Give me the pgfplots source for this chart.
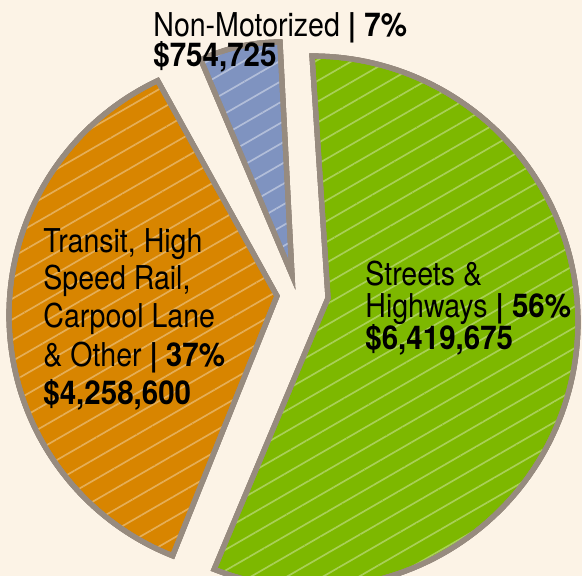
\documentclass[border=0pt]{standalone}
\usepackage{pgfplots}
\pgfplotsset{compat=1.18}
\usetikzlibrary{patterns.meta}
\usepackage{fontspec}
\setmainfont{TeX Gyre Heros}[FakeStretch=0.87, BoldFeatures={FakeStretch=0.9}]
\definecolor{bgc}{HTML}{FCF3E6}
\definecolor{bordc}{HTML}{978B7F}
\definecolor{greenc}{HTML}{7DB800}
\definecolor{orangec}{HTML}{D88500}
\definecolor{bluec}{HTML}{7F93C0}
\tikzset{
  lbl/.style={anchor=base west, inner sep=0pt, font=\fontsize{16.4pt}{19pt}\selectfont},
  slice/.style={draw=bordc, line width=2.6pt, line join=miter},
}
% shares (percent)
\def\vStreets{56}
\def\vTransit{37}
\def\vNonMot{7}
\pgfmathsetmacro\aA{90}
\pgfmathsetmacro\aB{90-3.6*\vStreets}
\pgfmathsetmacro\aC{\aB-3.6*\vTransit}
\pgfmathsetmacro\aD{\aC-3.6*\vNonMot}
\begin{document}
\begin{tikzpicture}
\begin{axis}[
  scale only axis, width=291pt, height=288pt,
  xmin=0, xmax=582, ymin=0, ymax=576, y dir=reverse,
  axis line style={draw=none}, ticks=none,
  axis background/.style={fill=bgc},
  clip=true,
]
% Streets & Highways (exploded to the right)
\addplot[slice, preaction={fill=greenc},
  preaction={pattern={Lines[angle=30,distance=9pt,line width=0.85pt]}, pattern color=greenc!66!white},
  domain=\aB:\aA, samples=120, variable=\t]
  ({312+266*cos(t)}, {322-266*sin(t)}) -- (328,298) -- cycle;
% Transit, High Speed Rail, Carpool Lane & Other
\addplot[slice, preaction={fill=orangec},
  preaction={pattern={Lines[angle=30,distance=9pt,line width=0.85pt]}, pattern color=orangec!66!white},
  domain=\aC:\aB, samples=90, variable=\t]
  ({268+259*cos(t)}, {315-259*sin(t)}) -- (277,296) -- cycle;
% Non-Motorized
\addplot[slice, preaction={fill=bluec},
  preaction={pattern={Lines[angle=30,distance=9pt,line width=0.85pt]}, pattern color=bluec!60!white},
  domain=\aD:\aC, samples=30, variable=\t]
  ({280+186*cos(t)}, {228-186*sin(t)}) -- (292,275) -- cycle;

\node[lbl] at (153,37) {Non-Motorized \textbf{| 7\%}};
\node[lbl] at (153,67) {\textbf{\$754,725}};

\node[lbl] at (43,253) {Transit, High};
\node[lbl] at (43,290) {Speed Rail,};
\node[lbl] at (43,328) {Carpool Lane};
\node[lbl] at (43,366) {\& Other \textbf{| 37\%}};
\node[lbl] at (43,404) {\textbf{\$4,258,600}};

\node[lbl] at (365,286) {Streets \&};
\node[lbl] at (365,318) {Highways \textbf{| 56\%}};
\node[lbl] at (365,350) {\textbf{\$6,419,675}};
\end{axis}
\end{tikzpicture}
\end{document}
